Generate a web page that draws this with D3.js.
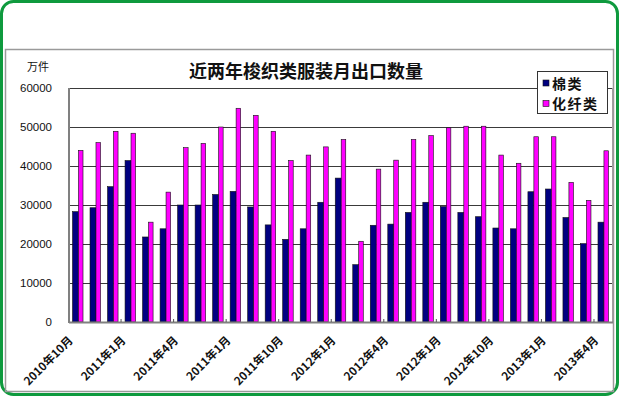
<!DOCTYPE html>
<html>
<head>
<meta charset="utf-8">
<script src="https://cdn.jsdelivr.net/npm/d3@7"></script>
<style>
  body { margin: 0; background: #fff; }
  svg { display: block; }
</style>
</head>
<body>
<div id="chart"></div>
<script>
// months shown on the axis, one label every 3 months (text as printed on the original)
const months = d3.range(31).map(i => 'm' + i);
const tickLabels = ['2010年10月', '2011年1月', '2011年4月', '2011年1月', '2011年10月',
  '2012年1月', '2012年4月', '2012年1月', '2012年10月', '2013年1月', '2013年4月'];

const cotton = [28300, 29300, 34700, 41400, 21800, 23900, 30000, 30000, 32700, 33500,
  29500, 24900, 21200, 23900, 30700, 36900, 14700, 24800, 25100, 28100,
  30700, 29600, 28100, 27000, 24100, 23900, 33400, 34100, 26800, 20100, 25600];

const fibre = [44000, 46000, 48900, 48400, 25600, 33300, 44700, 45800, 50000, 54800,
  53000, 48900, 41400, 42800, 44900, 46800, 20700, 39200, 41500, 46800,
  47800, 49800, 50200, 50200, 42800, 40700, 47500, 47500, 35800, 31200, 43900];

const yTicks = [0, 10000, 20000, 30000, 40000, 50000, 60000];

const W = 620, H = 397;
const plot = { left: 69, right: 612, top: 88, bottom: 322 };

const svg = d3.select('#chart')
  .append('svg')
  .attr('width', W)
  .attr('height', H);

// outer green frame + inner grey box
svg.append('rect')
  .attr('x', 1.5).attr('y', 1.5)
  .attr('width', 616).attr('height', 393)
  .attr('rx', 12)
  .attr('fill', '#fff')
  .attr('stroke', '#0f9a3e')
  .attr('stroke-width', 3);

svg.append('rect')
  .attr('x', 5.5).attr('y', 49.5)
  .attr('width', 608).attr('height', 342)
  .attr('fill', 'none')
  .attr('stroke', '#9a9a9a')
  .attr('stroke-width', 1.5);

const x = d3.scaleBand()
  .domain(months)
  .range([plot.left, plot.right])
  .padding(0);

const y = d3.scaleLinear()
  .domain([0, 60000])
  .range([plot.bottom, plot.top]);

// gridlines
svg.append('g')
  .selectAll('line')
  .data(yTicks.slice(1))
  .enter()
  .append('line')
  .attr('x1', plot.left).attr('x2', plot.right)
  .attr('y1', d => Math.round(y(d)) + 0.5)
  .attr('y2', d => Math.round(y(d)) + 0.5)
  .attr('stroke', '#3a3a3a')
  .attr('stroke-width', 1);

// plot border right side
svg.append('line')
  .attr('x1', plot.right + 0.5).attr('x2', plot.right + 0.5)
  .attr('y1', plot.top).attr('y2', plot.bottom)
  .attr('stroke', '#a0a0a0');

// y axis labels
const yAxis = d3.axisLeft(y)
  .tickValues(yTicks)
  .tickFormat(d3.format('d'))
  .tickSize(0)
  .tickPadding(17);

svg.append('g')
  .attr('transform', `translate(${plot.left},0)`)
  .call(yAxis)
  .call(g => g.select('.domain').remove())
  .selectAll('text')
  .attr('font-family', 'Liberation Sans, Arial, sans-serif')
  .attr('font-size', 11.5)
  .attr('fill', '#111');

const bw = x.bandwidth();

// bars
svg.append('g')
  .selectAll('rect')
  .data(cotton)
  .enter()
  .append('rect')
  .attr('x', (d, i) => x(months[i]) + bw * 0.2)
  .attr('y', d => y(d))
  .attr('width', bw * 0.34)
  .attr('height', d => y(0) - y(d))
  .attr('fill', '#000080')
  .attr('stroke', '#111')
  .attr('stroke-width', 0.6);

svg.append('g')
  .selectAll('rect')
  .data(fibre)
  .enter()
  .append('rect')
  .attr('x', (d, i) => x(months[i]) + bw * 0.54)
  .attr('y', d => y(d))
  .attr('width', bw * 0.26)
  .attr('height', d => y(0) - y(d))
  .attr('fill', '#ff00ff')
  .attr('stroke', '#111')
  .attr('stroke-width', 0.6);

// axis lines
svg.append('line')
  .attr('x1', plot.left).attr('x2', plot.left)
  .attr('y1', plot.top).attr('y2', plot.bottom + 1)
  .attr('stroke', '#808080').attr('stroke-width', 2);
svg.append('line')
  .attr('x1', plot.left).attr('x2', plot.right + 1)
  .attr('y1', plot.bottom + 0.5).attr('y2', plot.bottom + 0.5)
  .attr('stroke', '#808080').attr('stroke-width', 2);

// small ticks every 3 months
svg.append('g')
  .selectAll('line')
  .data(d3.range(3, 31, 3))
  .enter()
  .append('line')
  .attr('x1', i => x(months[i]) - 0.5)
  .attr('x2', i => x(months[i]) - 0.5)
  .attr('y1', plot.bottom - 3).attr('y2', plot.bottom)
  .attr('stroke', '#555');

// x labels
svg.append('g')
  .selectAll('text')
  .data(tickLabels)
  .enter()
  .append('text')
  .attr('transform', (d, i) => {
    const cx = x(months[i * 3]) + bw / 2 - 4;
    return `translate(${cx},${plot.bottom + 19}) rotate(-45)`;
  })
  .attr('text-anchor', 'end')
  .attr('font-family', 'Noto Sans CJK SC, sans-serif')
  .attr('font-weight', 'bold')
  .attr('font-size', 11.5)
  .attr('fill', '#111')
  .text(d => d);

// title + unit
svg.append('text')
  .attr('x', 306).attr('y', 78)
  .attr('text-anchor', 'middle')
  .attr('font-family', 'Noto Sans CJK SC, sans-serif')
  .attr('font-weight', 'bold')
  .attr('font-size', 18)
  .attr('fill', '#111')
  .text('近两年梭织类服装月出口数量');

svg.append('text')
  .attr('x', 27).attr('y', 71)
  .attr('font-family', 'Noto Sans CJK SC, sans-serif')
  .attr('font-size', 11)
  .attr('fill', '#111')
  .text('万件');

// legend
const legend = svg.append('g');
legend.append('rect')
  .attr('x', 537.5).attr('y', 71.5)
  .attr('width', 70).attr('height', 42)
  .attr('fill', '#fff')
  .attr('stroke', '#333');

const legendItems = [['棉类', '#000080'], ['化纤类', '#ff00ff']];
legend.selectAll('g.item')
  .data(legendItems)
  .enter()
  .append('g')
  .attr('class', 'item')
  .each(function (d, i) {
    const g = d3.select(this);
    g.append('rect')
      .attr('x', 543).attr('y', 80 + i * 20.5)
      .attr('width', 6).attr('height', 6)
      .attr('fill', d[1])
      .attr('stroke', '#111')
      .attr('stroke-width', 0.6);
    g.append('text')
      .attr('x', 552).attr('y', 88.5 + i * 20.5)
      .attr('font-family', 'Noto Sans CJK SC, sans-serif')
      .attr('font-weight', 'bold')
      .attr('font-size', 14)
      .attr('letter-spacing', 1.5)
      .attr('fill', '#111')
      .text(d[0]);
  });
</script>
</body>
</html>
